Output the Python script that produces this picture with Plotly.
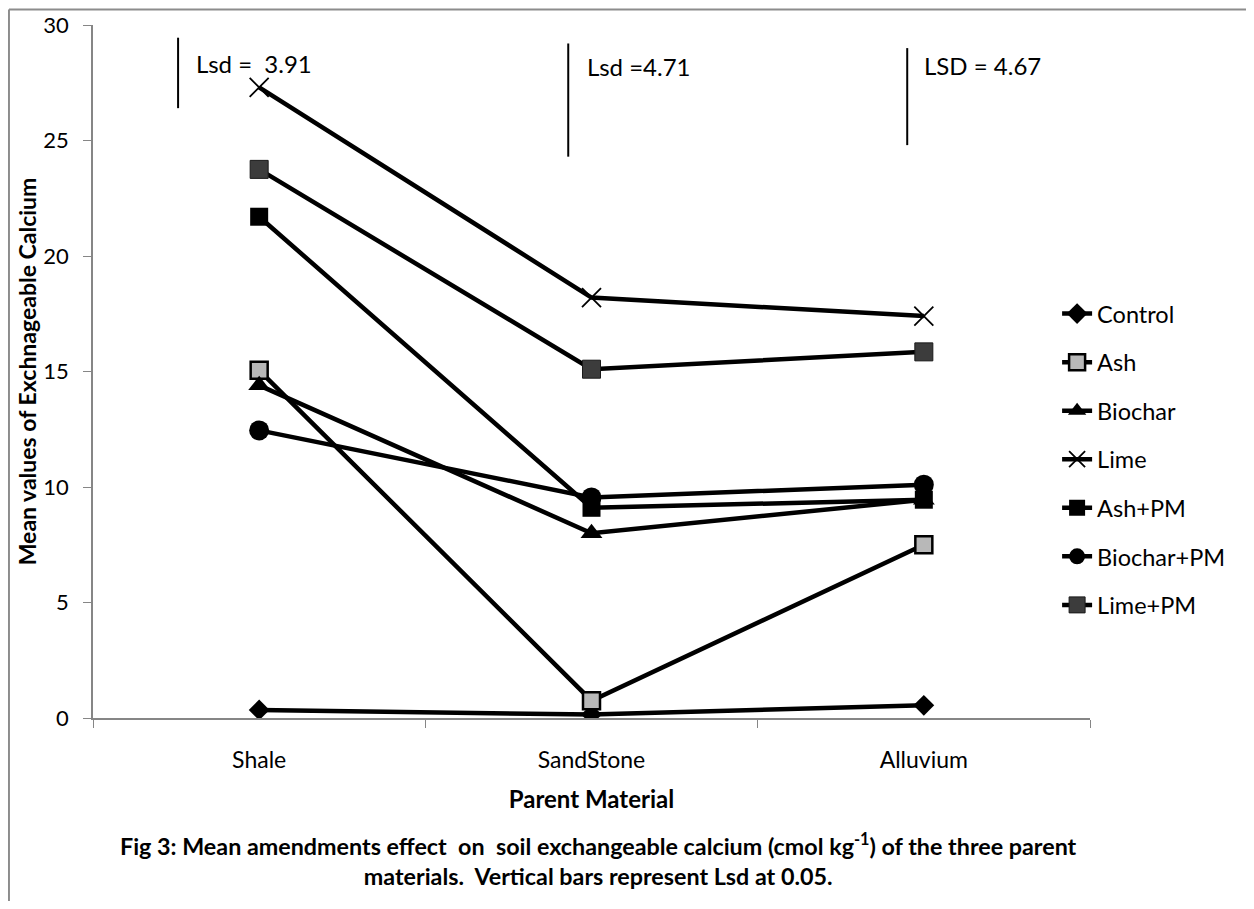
import plotly.graph_objects as go

categories = ["Shale", "SandStone", "Alluvium"]
series_names = ["Control", "Ash", "Biochar", "Lime", "Ash+PM", "Biochar+PM", "Lime+PM"]
control = [0.35, 0.15, 0.55]
ash = [15.05, 0.75, 7.5]
biochar = [14.4, 8.0, 9.45]
lime = [27.3, 18.2, 17.4]
ash_pm = [21.7, 9.1, 9.45]
biochar_pm = [12.45, 9.55, 10.1]
lime_pm = [23.75, 15.1, 15.85]
y_ticks = [0, 5, 10, 15, 20, 25, 30]

lsd_labels = ["Lsd =\u00a0\u00a03.91", "Lsd =4.71", "LSD = 4.67"]

FONT = "Lato"
values = [control, ash, biochar, lime, ash_pm, biochar_pm, lime_pm]
markers = [
    dict(symbol="diamond", size=16, color="black"),
    dict(symbol="square", size=17, color="#b8b8b8", line=dict(color="black", width=2.5)),
    dict(symbol="triangle-up", size=19, color="black"),
    dict(symbol="x-thin", size=19, color="black", line=dict(color="black", width=1.8)),
    dict(symbol="square", size=18, color="black"),
    dict(symbol="circle", size=20, color="black"),
    dict(symbol="square", size=18, color="#3c3c3c", line=dict(color="#1a1a1a", width=1)),
]

fig = go.Figure()
for name, vals, mk in zip(series_names, values, markers):
    fig.add_trace(go.Scatter(
        x=categories, y=vals, name=name, mode="lines+markers",
        line=dict(color="black", width=4.5), marker=mk,
        legendgroup=name,
    ))

# LSD bars (positions in category units / data units)
lsd_x = [-0.244, 0.93, 1.95]
lsd_y0 = [26.4, 24.3, 24.8]
lsd_y1 = [29.45, 29.2, 29.0]
lsd_tx = [-0.196, 0.979, 1.994]
lsd_ty = [28.35, 28.2, 28.25]
for bx, y0, y1, tx, ty, lab in zip(lsd_x, lsd_y0, lsd_y1, lsd_tx, lsd_ty, lsd_labels):
    fig.add_shape(type="line", xref="x", yref="y", x0=bx, x1=bx, y0=y0, y1=y1,
                  line=dict(color="black", width=2))
    fig.add_annotation(x=tx, y=ty, xref="x", yref="y", text=lab, showarrow=False,
                       xanchor="left", yanchor="middle",
                       font=dict(family=FONT, size=24, color="black"))

# outer border (left and top)
fig.add_shape(type="line", xref="paper", yref="paper", x0=-0.0843, x1=-0.0843, y0=1.0224, y1=-0.4,
              line=dict(color="#8c8c8c", width=2))
fig.add_shape(type="line", xref="paper", yref="paper", x0=-0.0843, x1=1.3, y0=1.0224, y1=1.0224,
              line=dict(color="#8c8c8c", width=2))

fig.add_annotation(
    xref="paper", yref="paper", x=0.5075, y=-0.157, xanchor="center", yanchor="top",
    text="<b>Fig 3: Mean amendments effect\u00a0 on\u00a0 soil exchangeable calcium (cmol kg<sup>-1</sup>) of the three parent<br>materials.\u00a0 Vertical bars represent Lsd at 0.05.</b>",
    showarrow=False, align="center",
    font=dict(family=FONT, size=23.3, color="black"),
)

fig.update_layout(
    width=1238, height=893,
    margin=dict(l=85, r=156, t=17, b=183),
    paper_bgcolor="white", plot_bgcolor="white",
    font=dict(family=FONT, color="black"),
    showlegend=True,
    legend=dict(x=0.967, y=0.615, xanchor="left", yanchor="top",
                font=dict(family=FONT, size=23.5, color="black"),
                bgcolor="rgba(0,0,0,0)", tracegroupgap=15),
    xaxis=dict(
        type="category", range=[-0.5, 2.5], showline=True, linecolor="#868686", linewidth=1.5,
        ticks="outside", tickson="boundaries", ticklen=8, tickcolor="#868686",
        showgrid=False, tickfont=dict(family=FONT, size=23, color="black"),
        ticklabelstandoff=21, automargin=False,
        title=dict(text="<b>Parent Material</b>", font=dict(family=FONT, size=24, color="black"), standoff=19),
    ),
    yaxis=dict(
        range=[0, 30], tickvals=y_ticks, showline=True, linecolor="#868686", linewidth=1.5,
        ticks="outside", ticklen=8, tickcolor="#868686", showgrid=False, zeroline=False,
        tickfont=dict(family=FONT, size=22, color="black"),
        ticklabelstandoff=10, automargin=False,
        title=dict(text="<b>Mean values of Exchnageable Calcium</b>", font=dict(family=FONT, size=23, color="black"), standoff=0),
    ),
)

fig.write_html("out.html")
